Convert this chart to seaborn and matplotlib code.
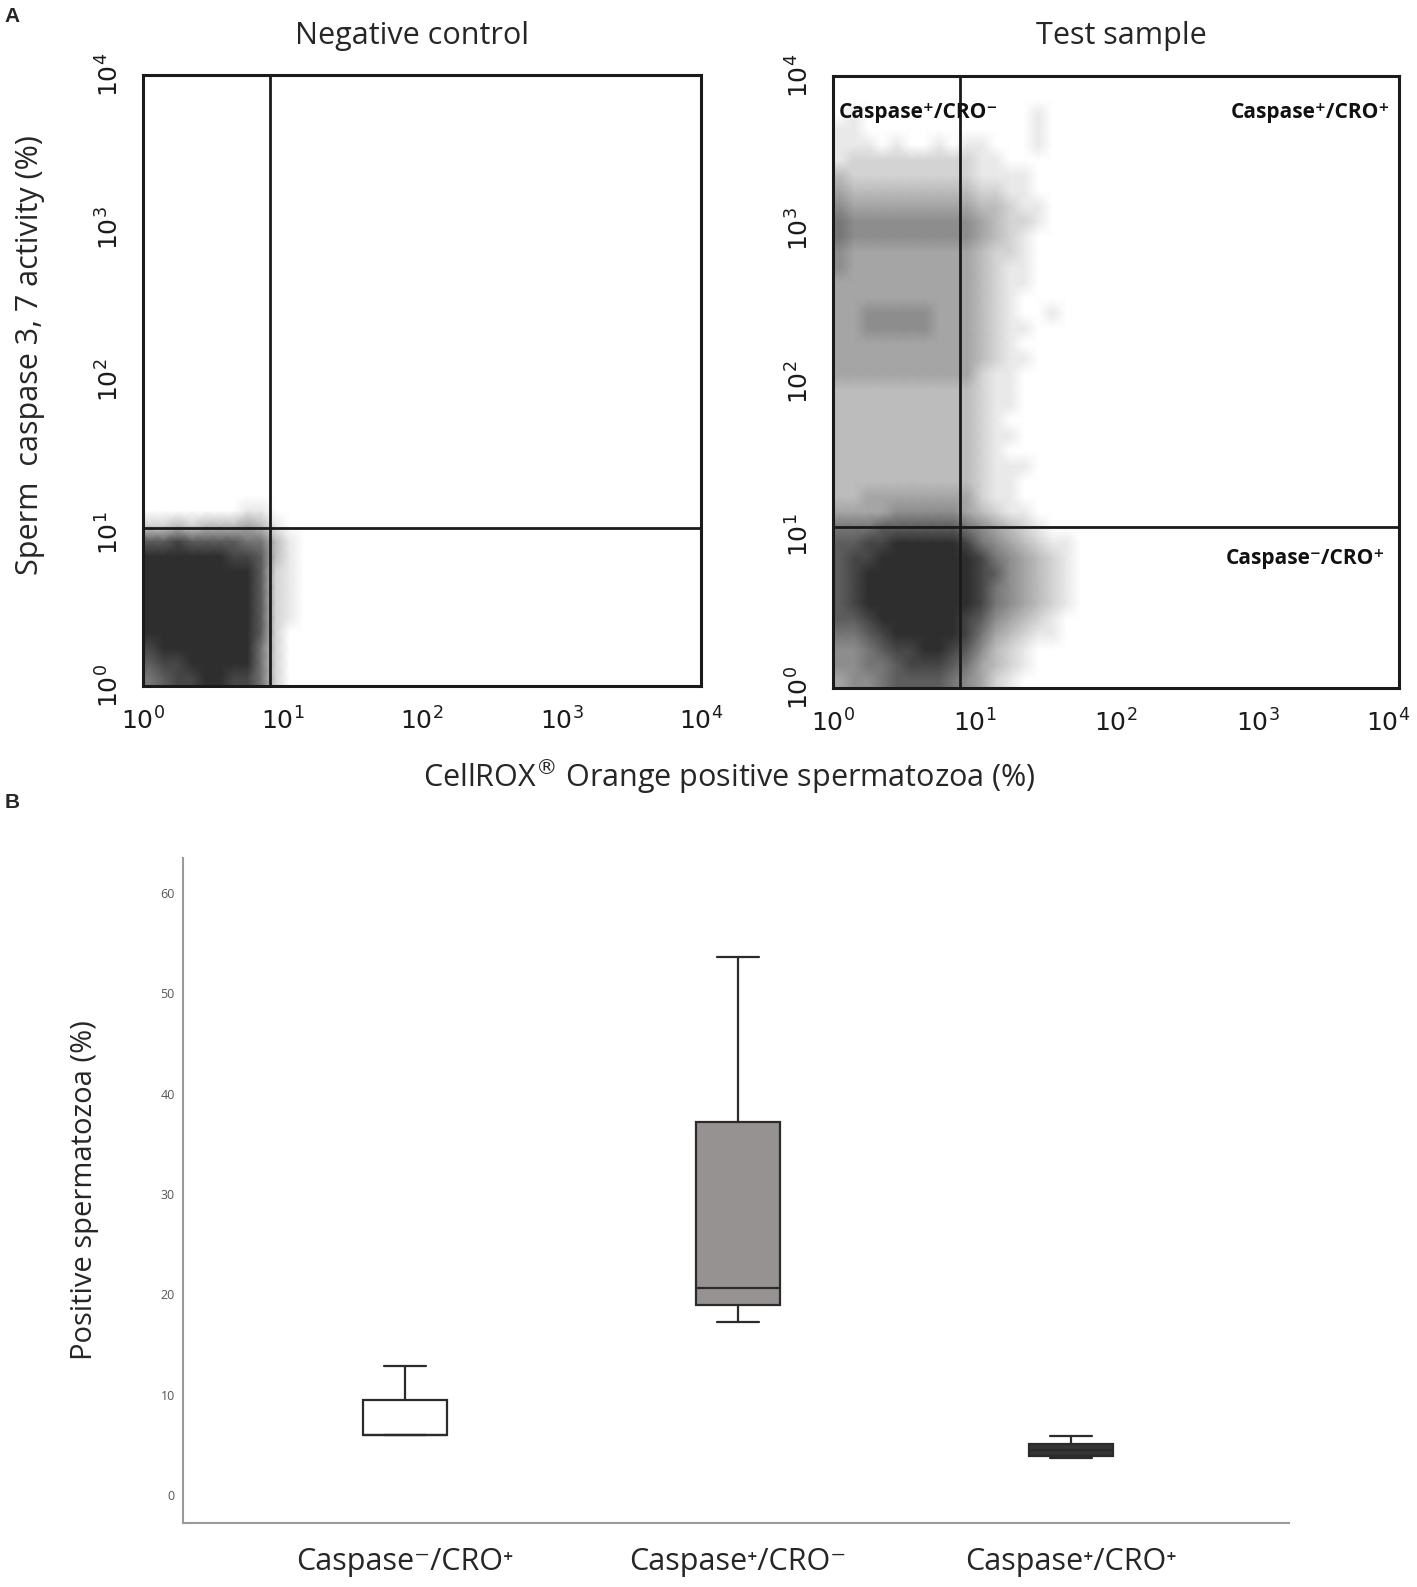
import numpy as np
import pandas as pd
import seaborn as sns
import matplotlib
matplotlib.use('Agg')
import matplotlib.pyplot as plt
from matplotlib.ticker import LogLocator, FuncFormatter, NullFormatter

# ---- data ----
# dot-plot densities, 0.1-decade cells, levels 0 (empty) .. 9 (solid); rows top -> bottom
neg_density = [  # x 10^0..10^1.2, y 10^1.2 .. 10^0
    "000000011000",
    "223233343100",
    "778777766310",
    "999999887310",
    "999999997210",
    "999999997210",
    "999999997210",
    "999999997210",
    "999999997200",
    "899999996200",
    "788999996200",
    "678899886200",
]
test_density = [  # x 10^0..10^2, y 10^3.8 .. 10^0
    "01000000000000100000",
    "11000000000000100000",
    "11101001011000100000",
    "12222222221100000000",
    "32222222221111000000",
    "43333333332211000000",
    "54444444443321100000",
    "65555555554322100000",
    "65555555554321000000",
    "54444444443221000000",
    "54444444443211000000",
    "44444444443211000000",
    "44444444443210000000",
    "44555554443210010000",
    "44555554443211000000",
    "44444444443210000000",
    "44444444443211000000",
    "44444444442110000000",
    "33333333332110000000",
    "33333333332110000000",
    "33333333332100000000",
    "33333333332110000000",
    "33333333332100000000",
    "33333333332111000000",
    "33333333332110000000",
    "33444444442110000000",
    "44445555543211000000",
    "66677777765432100000",
    "77889999986543211000",
    "78899999998654321000",
    "78999999998754321000",
    "78999999998654321000",
    "78999999998654321000",
    "77899999987543210000",
    "66789999986432110000",
    "55678899875321000000",
    "55667888764321000000",
    "45567777654210000000",
]
neg_gate = (8.2, 10.9)    # CRO, caspase quadrant thresholds
test_gate = (7.9, 11.2)

groups = ['Caspase\u207b/CRO\u207a', 'Caspase\u207a/CRO\u207b', 'Caspase\u207a/CRO\u207a']
casp_neg_cro_pos = [6.0, 6.0, 6.0, 9.45, 12.85]
casp_pos_cro_neg = [17.2, 18.9, 20.65, 37.2, 53.6]
casp_pos_cro_pos = [3.65, 3.9, 4.5, 5.1, 5.9]
box_colors = ['#ffffff', '#979191', '#353535']

sns.set_style('white')
plt.rcParams['font.family'] = ['Open Sans', 'DejaVu Sans']
plt.rcParams['mathtext.fontset'] = 'dejavusans'

W, H = 1417, 1587
fig = plt.figure(figsize=(W / 100, H / 100), dpi=100)

def px(x, y):
    return x / W, 1 - y / H

dot_cmap = sns.blend_palette(['#ffffff', '#bcbcbc', '#767676', '#2e2e2e'], as_cmap=True)

def decade_label(v, pos):
    return r'$10^{%d}$' % round(np.log10(v))

def draw_density(ax, rows):
    grid = np.array([[int(c) for c in r] for r in rows[::-1]], dtype=float)
    ny, nx = grid.shape
    g = np.pad(grid, ((1, 0), (1, 0)), mode='edge')
    g = np.pad(g, ((0, 1), (0, 1)))
    xc = np.concatenate([[0], 0.05 + 0.1 * np.arange(nx), [0.1 * nx + 0.05]])
    yc = np.concatenate([[0], 0.05 + 0.1 * np.arange(ny), [0.1 * ny + 0.05]])
    X, Y = np.meshgrid(10 ** xc, 10 ** yc)
    ax.pcolormesh(X, Y, g, shading='gouraud', cmap=dot_cmap, vmin=0, vmax=9, zorder=1)

def style_flow(ax, gate, xfmt=decade_label):
    ax.set_xscale('log'); ax.set_yscale('log')
    ax.set_xlim(1, 1e4); ax.set_ylim(1, 1e4)
    for a in (ax.xaxis, ax.yaxis):
        a.set_major_locator(LogLocator(base=10, numticks=10))
        a.set_minor_locator(LogLocator(base=10, subs=np.arange(2, 10), numticks=10))
        a.set_minor_formatter(NullFormatter())
    ax.xaxis.set_major_formatter(FuncFormatter(xfmt))
    ax.yaxis.set_major_formatter(FuncFormatter(decade_label))
    ax.tick_params(which='major', direction='out', length=8, width=2, labelsize=18, colors='#1a1a1a')
    ax.tick_params(which='minor', direction='out', length=5, width=1.6, colors='#1a1a1a')
    ax.tick_params(axis='x', pad=8)
    ax.tick_params(axis='y', labelrotation=90, pad=5)
    for lab in ax.get_yticklabels():
        lab.set_va('center')
    for s in ax.spines.values():
        s.set_linewidth(2.2); s.set_color('#1a1a1a')
    ax.axvline(gate[0], color='#1a1a1a', lw=2, zorder=3)
    ax.axhline(gate[1], color='#1a1a1a', lw=2, zorder=3)

# ---- panel A ----
ax1 = fig.add_axes([143 / W, 1 - 686 / H, 558 / W, 611 / H])
draw_density(ax1, neg_density)
style_flow(ax1, neg_gate)

ax2 = fig.add_axes([833 / W, 1 - 688 / H, 566 / W, 612 / H])
draw_density(ax2, test_density)
# the 10^4 label at the right edge is placed by hand so it stays on the canvas
style_flow(ax2, test_gate, xfmt=lambda v, p: '' if v >= 1e4 else decade_label(v, p))
ax2.annotate(r'$10^{4}$', xy=(1, 0), xycoords='axes fraction', xytext=(-8, -16),
             textcoords='offset points', ha='center', va='top', fontsize=18, color='#1a1a1a')

qkw = dict(transform=ax2.transAxes, fontsize=15, fontweight='bold', color='#111', zorder=5)
ax2.text(0.011, 0.94, 'Caspase\u207a/CRO\u207b', ha='left', va='center', **qkw)
ax2.text(0.984, 0.94, 'Caspase\u207a/CRO\u207a', ha='right', va='center', **qkw)
ax2.text(0.975, 0.212, 'Caspase\u207b/CRO\u207a', ha='right', va='center', **qkw)

fig.text(*px(412, 36), 'Negative control', ha='center', va='center', fontsize=22)
fig.text(*px(1121, 36), 'Test sample', ha='center', va='center', fontsize=22)
fig.text(*px(30, 355), 'Sperm  caspase 3, 7 activity (%)', ha='center', va='center',
         rotation=90, fontsize=22)
fig.text(*px(729, 777), 'CellROX$^{\u00ae}$ Orange positive spermatozoa (%)', ha='center',
         va='center', fontsize=22)
fig.text(*px(12, 16), 'A', ha='center', va='center', fontsize=15, fontweight='bold',
         family='Liberation Sans')
fig.text(*px(12, 803), 'B', ha='center', va='center', fontsize=15, fontweight='bold',
         family='Liberation Sans')

# ---- panel B ----
ax3 = fig.add_axes([183 / W, 1 - 1523 / H, 1106 / W, 665 / H])
df = pd.DataFrame({
    'group': np.repeat(groups, 5),
    'value': casp_neg_cro_pos + casp_pos_cro_neg + casp_pos_cro_pos,
})
sns.boxplot(data=df, x='group', y='value', hue='group', order=groups, hue_order=groups,
            palette=box_colors, width=0.25, linewidth=1.6, linecolor='#2b2b2b',
            whis=1.5, legend=False, ax=ax3)
ax3.set_xlim(-0.667, 2.655)
ax3.set_ylim(-2.8, 63.5)
ax3.set_yticks(range(0, 61, 10))
ax3.set_xlabel('')
ax3.set_ylabel('Positive spermatozoa (%)', fontsize=21, labelpad=44)
ax3.tick_params(axis='y', length=0, labelsize=9, labelcolor='#555', pad=6)
ax3.tick_params(axis='x', length=0, labelsize=22, pad=17)
sns.despine(ax=ax3)
for s in ('left', 'bottom'):
    ax3.spines[s].set_color('#9a9a9a')
    ax3.spines[s].set_linewidth(1.5)

fig.savefig('out.png', dpi=100)
